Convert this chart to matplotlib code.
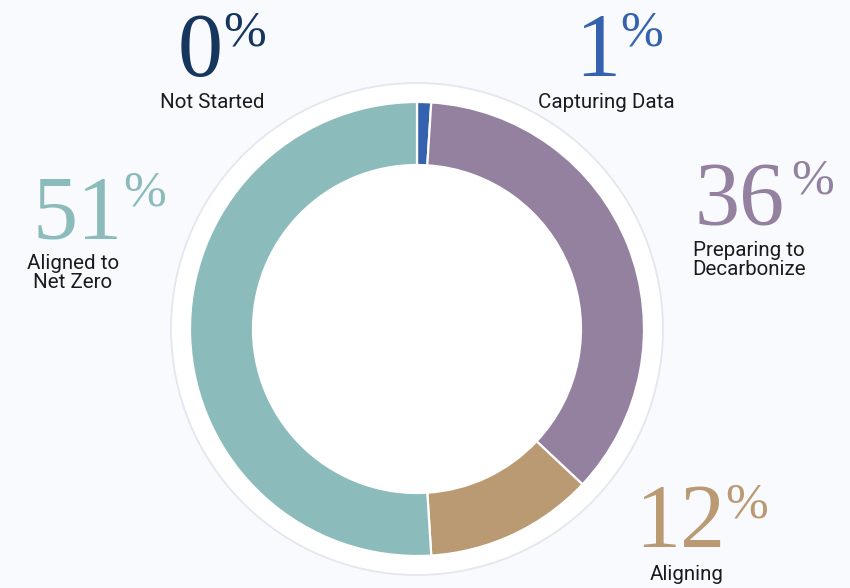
import matplotlib
matplotlib.use("Agg")
import matplotlib.pyplot as plt
from matplotlib.patches import Circle

# ---- data ----
categories = ["Not Started", "Capturing Data", "Preparing to\nDecarbonize", "Aligning", "Aligned to\nNet Zero"]
values = [0, 1, 36, 12, 51]
pct_labels = ["0", "1", "36", "12", "51"]
colors = ["#17365D", "#3462AE", "#93819F", "#BA9A72", "#8BBBBA"]

W, H = 850, 588
BG = "#F8FAFD"

fig = plt.figure(figsize=(W / 100, H / 100), dpi=100, facecolor=BG)
ax = fig.add_axes([0, 0, 1, 1])
ax.set_facecolor(BG)

def Y(py):
    return H - py

cx, cy = 417, Y(329)
R_out, R_in = 227, 164

# white backing disc with faint outline
ax.add_patch(Circle((cx, cy), 246, facecolor="white", edgecolor="#E4E6F0", lw=1.3, zorder=0))

ax.pie(values, colors=colors, startangle=90, counterclock=False, center=(cx, cy),
       radius=R_out, wedgeprops=dict(width=R_out - R_in, edgecolor="white", linewidth=1.6))

ax.set_xlim(0, W)
ax.set_ylim(0, H)
ax.set_aspect("equal", adjustable="box")
ax.axis("off")

SERIF = "Liberation Serif"
SANS = "Roboto"

# (digits left x, digits baseline y, pct left x, pct top y, label center x, label center y)
layout = [
    (178, 76, 222, 10, 212, 103),
    (575, 76, 615, 10, 606, 103),
    (695, 225, 791, 158, 749, 260),
    (635, 547, 718, 482, 687, 575),
    (33, 238, 120, 170, 73, 273),
]

renderer = fig.canvas.get_renderer()
for (dx, dy, px, py, lx, ly), num, cat, col in zip(layout, pct_labels, categories, colors):
    t = ax.text(dx, Y(dy), num, fontsize=65, family=SERIF, color=col, ha="left", va="baseline")
    bb = t.get_window_extent(renderer)
    px = max(px, bb.x1 + 0.5)
    ax.text(px, Y(py), "%", fontsize=37, family=SERIF, color=col, ha="left", va="top")
    ax.text(lx, Y(ly), cat, fontsize=14.8, family=SANS, color="#1B1B1B", ha="center", va="center",
            linespacing=1.0)

fig.savefig("out.png", dpi=100, facecolor=BG)
